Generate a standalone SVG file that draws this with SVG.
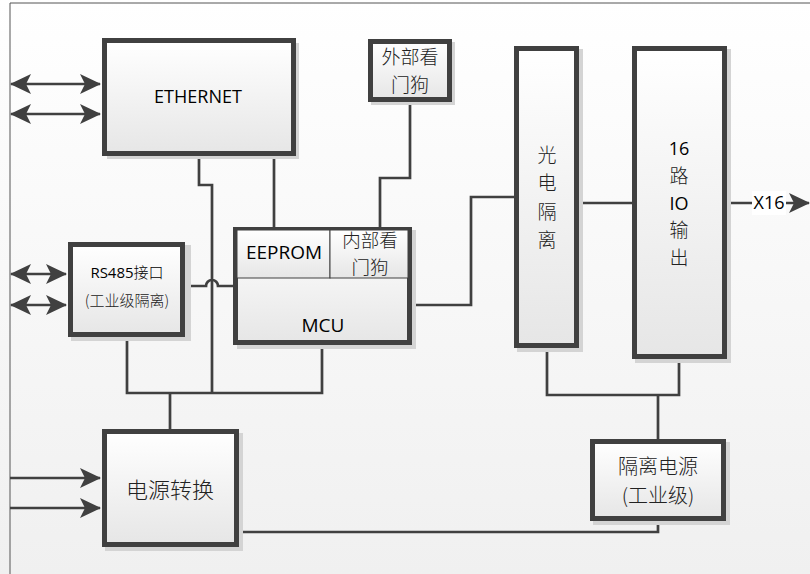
<svg xmlns="http://www.w3.org/2000/svg" width="810" height="574" viewBox="0 0 810 574">
<defs>
<linearGradient id="bg" x1="0" y1="0" x2="0" y2="1"><stop offset="0" stop-color="#ffffff"/><stop offset="1" stop-color="#f0f0f0"/></linearGradient>
<linearGradient id="bf" x1="0" y1="0" x2="0" y2="1"><stop offset="0" stop-color="#ffffff"/><stop offset="1" stop-color="#e6e6e6"/></linearGradient>
<marker id="ah" markerUnits="userSpaceOnUse" markerWidth="22" markerHeight="22" viewBox="0 0 22 22" refX="20" refY="11" orient="auto-start-reverse"><path d="M0,1 L21,11 L0,21 L5,11 z" fill="#404040"/></marker>
</defs>
<style>
.box{fill:url(#bf);stroke:#404040;stroke-width:5}
.sub{fill:url(#bf);stroke:#404040;stroke-width:1}
.sh{fill:#d4d4d4}
.ln{fill:none;stroke:#404040;stroke-width:2.7}
.lat{font-family:"Open Sans","Liberation Sans",sans-serif;fill:#000;text-anchor:middle}
.cjk{font-family:"Noto Sans CJK SC","Noto Sans CJK TC",sans-serif;fill:#222;text-anchor:middle;font-weight:300}
</style>
<rect x="0" y="0" width="810" height="574" fill="url(#bg)"/>
<path d="M10,574 V3 H810" fill="none" stroke="#555" stroke-width="1"/>

<g id="connectors">
<line class="ln" x1="11" y1="84" x2="100" y2="84" marker-start="url(#ah)" marker-end="url(#ah)"/>
<line class="ln" x1="11" y1="114" x2="100" y2="114" marker-start="url(#ah)" marker-end="url(#ah)"/>
<line class="ln" x1="11" y1="274" x2="66" y2="274" marker-start="url(#ah)" marker-end="url(#ah)"/>
<line class="ln" x1="11" y1="305" x2="66" y2="305" marker-start="url(#ah)" marker-end="url(#ah)"/>
<line class="ln" x1="10" y1="478" x2="100" y2="478" marker-end="url(#ah)"/>
<line class="ln" x1="10" y1="508" x2="100" y2="508" marker-end="url(#ah)"/>
<path class="ln" d="M199,156 V185 H212 V393"/>
<path class="ln" d="M274,156 V228"/>
<path class="ln" d="M410,102 V178 H380 V228"/>
<path class="ln" d="M185,286 H206 A6,6 0 0 1 218,286 H234"/>
<path class="ln" d="M127,337 V393 H322 V345"/>
<path class="ln" d="M170,393 V430"/>
<path class="ln" d="M412,305 H471 V197 H514"/>
<path class="ln" d="M579,203 H632"/>
<path class="ln" d="M547,348 V395 H679 V359"/>
<path class="ln" d="M658,395 V439"/>
<path class="ln" d="M239,532 H658 V521"/>
<line class="ln" x1="727" y1="203" x2="809" y2="203" marker-end="url(#ah)"/>
<rect x="752" y="191" width="34" height="24" fill="#fff"/>
<text class="lat" x="769" y="209" font-size="18">X16</text>
</g>

<g id="ethernet">
<rect class="sh" x="107" y="43" width="192" height="116"/>
<rect class="box" x="104.5" y="40.5" width="189" height="113"/>
<text class="lat" x="198" y="103" font-size="18">ETHERNET</text>
</g>

<g id="wdt-ext">
<rect class="sh" x="371" y="42" width="84" height="63"/>
<rect class="box" x="370.5" y="41.5" width="79" height="58"/>
<text class="cjk" x="410" y="64" font-size="19">外部看</text>
<text class="cjk" x="410" y="92" font-size="19">门狗</text>
</g>

<g id="rs485">
<rect class="sh" x="71" y="245" width="120" height="96"/>
<rect class="box" x="70.5" y="244.5" width="112" height="90"/>
<text x="127" y="278" font-size="15" text-anchor="middle" fill="#000"><tspan font-family="Open Sans, Liberation Sans, sans-serif">RS485</tspan><tspan font-family="Noto Sans CJK SC, sans-serif" font-weight="300">接口</tspan></text>
<text class="cjk" x="127" y="306" font-size="15" font-weight="400">(工业级隔离)</text>
</g>

<g id="mcu">
<rect class="sh" x="237" y="230" width="179" height="119"/>
<rect class="box" x="235.5" y="229.5" width="174" height="113"/>
<rect class="sub" x="237" y="230" width="93" height="48"/>
<rect class="sub" x="330" y="230" width="78" height="48"/>
<text class="lat" x="284" y="259" font-size="19">EEPROM</text>
<text class="cjk" x="370" y="247" font-size="18.5">内部看</text>
<text class="cjk" x="370" y="274" font-size="18.5">门狗</text>
<text class="lat" x="323" y="332" font-size="19">MCU</text>
</g>

<g id="opto">
<rect class="sh" x="517" y="49" width="66" height="303"/>
<rect class="box" x="516.5" y="48.5" width="60" height="297"/>
<text class="cjk" x="547" y="162" font-size="19">光</text>
<text class="cjk" x="547" y="190" font-size="19">电</text>
<text class="cjk" x="547" y="219" font-size="19">隔</text>
<text class="cjk" x="547" y="247" font-size="19">离</text>
</g>

<g id="io16">
<rect class="sh" x="635" y="49" width="96" height="314"/>
<rect class="box" x="634.5" y="48.5" width="90" height="308"/>
<text class="lat" x="679" y="155" font-size="18">16</text>
<text class="cjk" x="679" y="183" font-size="19">路</text>
<text class="lat" x="679" y="210" font-size="18">IO</text>
<text class="cjk" x="679" y="237" font-size="19">输</text>
<text class="cjk" x="679" y="265" font-size="19">出</text>
</g>

<g id="power">
<rect class="sh" x="105" y="433" width="138" height="118"/>
<rect class="box" x="104.5" y="431.5" width="132" height="113"/>
<text class="cjk" x="170" y="498" font-size="22">电源转换</text>
</g>

<g id="iso-power">
<rect class="sh" x="593" y="442" width="137" height="83"/>
<rect class="box" x="592.5" y="441.5" width="131" height="77"/>
<text class="cjk" x="658" y="474" font-size="20">隔离电源</text>
<text class="cjk" x="658" y="503" font-size="20">(工业级)</text>
</g>
</svg>
